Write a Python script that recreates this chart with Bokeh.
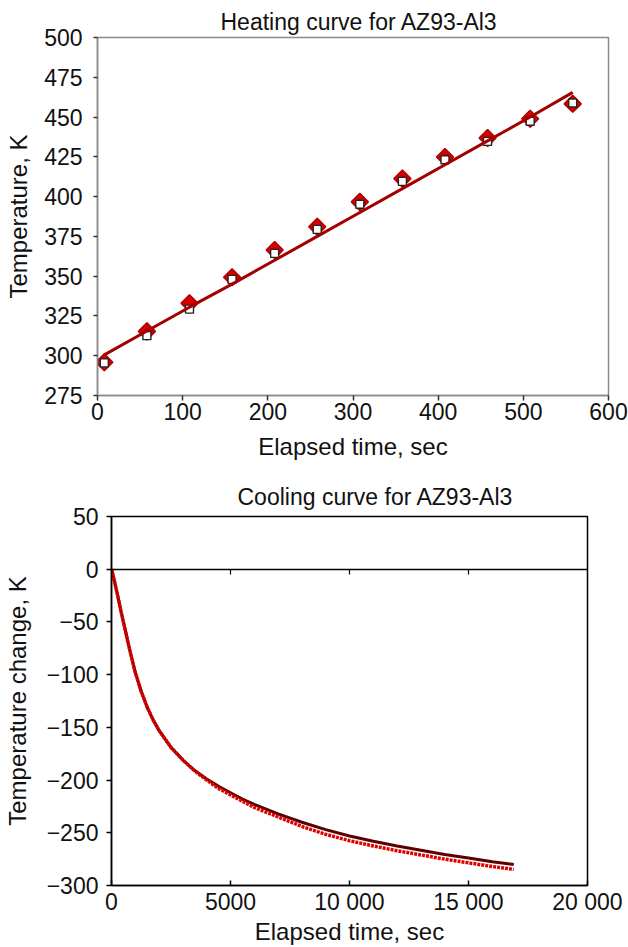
from bokeh.plotting import figure
from bokeh.layouts import column, row
from bokeh.models import FixedTicker, LinearAxis, Range1d
from bokeh.embed import file_html
from bokeh.resources import INLINE

# ---------------- Heating curve data ----------------
heat_time = [8, 58, 108, 158, 208, 258, 308, 358, 408, 458, 508, 558]
heat_diamond = [295.9, 315.3, 333.0, 349.3, 366.4, 381.0, 396.7, 411.3, 424.9, 436.8, 448.9, 458.3]
heat_square = [295.5, 312.6, 329.3, 348.0, 364.3, 379.4, 395.2, 409.6, 423.2, 434.7, 447.4, 458.8]
heat_fit = [300.5, 315.5, 330.5, 345.0, 360.0, 375.0, 390.0, 405.0, 420.0, 435.0, 450.0, 465.5]
heat_xticks = [0, 100, 200, 300, 400, 500, 600]
heat_yticks = [275, 300, 325, 350, 375, 400, 425, 450, 475, 500]

# ---------------- Cooling curve data ----------------
cool_time = [0, 100, 250, 400, 550, 750, 1000, 1250, 1500, 1750, 2000, 2500, 3000, 3500,
             4000, 4500, 5000, 5500, 6000, 7000, 8000, 9000, 10000, 11000, 12000, 13000,
             14000, 15000, 16000, 16900]
cool_dark = [0, -9, -24, -40, -55, -75, -98, -116, -131, -143, -153, -169, -181, -191,
             -199, -206, -212, -218, -223, -232, -240, -247, -253, -258, -262.5, -266.5,
             -270.5, -274, -277.5, -280]
cool_red = [0, -9, -24, -40, -55, -75, -98, -116, -131, -143, -153, -169, -181, -191.5,
            -200, -208, -214, -220, -226, -235, -244, -251.5, -257.5, -262.5, -267, -271,
            -275, -278.5, -282, -284.7]
cool_xticks = [0, 5000, 10000, 15000, 20000]
cool_xlabels = {0: "0", 5000: "5000", 10000: "10\u00a0000", 15000: "15\u00a0000", 20000: "20\u00a0000"}
cool_yticks = [-300, -250, -200, -150, -100, -50, 0, 50]
cool_ylabels = {-300: "\u2212300", -250: "\u2212250", -200: "\u2212200", -150: "\u2212150",
                -100: "\u2212100", -50: "\u221250", 0: "0", 50: "50"}
zero_line_ticks = [5000, 10000, 15000]

FONT = "Liberation Sans"


def style_axes(p, axis_color, tick_color):
    for ax in (p.xaxis[0], p.yaxis[0]):
        ax.major_label_text_font = FONT
        ax.major_label_text_font_size = "23px"
        ax.major_label_text_color = "#111111"
        ax.axis_label_text_font = FONT
        ax.axis_label_text_font_size = "24px"
        ax.axis_label_text_font_style = "normal"
        ax.axis_label_text_color = "#111111"
        ax.axis_line_color = axis_color
        ax.axis_line_width = 1.5
        ax.major_tick_line_color = tick_color
        ax.major_tick_line_width = 1.5
        ax.minor_tick_line_color = None
    p.xgrid.visible = False
    p.ygrid.visible = False
    p.title.text_font = FONT
    p.title.text_font_size = "23px"
    p.title.text_font_style = "normal"
    p.title.text_color = "#111111"
    p.title.align = "left"


# ---------------- Top figure ----------------
p1 = figure(width=628, height=470, output_backend="svg", toolbar_location=None,
            x_range=Range1d(0, 600), y_range=Range1d(275, 500),
            min_border_left=97, min_border_right=20, min_border_top=37, min_border_bottom=75,
            title="Heating curve for AZ93-Al3")
style_axes(p1, "#8a8a8a", "#333333")
p1.title.offset = 123
p1.title.standoff = 5
p1.outline_line_color = "#8a8a8a"
p1.outline_line_width = 1.5
p1.xaxis.ticker = FixedTicker(ticks=heat_xticks)
p1.yaxis.ticker = FixedTicker(ticks=heat_yticks)
p1.xaxis.axis_label = "Elapsed time, sec"
p1.yaxis.axis_label = "Temperature, K"
p1.xaxis.major_tick_in = 0
p1.xaxis.major_tick_out = 5
p1.yaxis.major_tick_in = 0
p1.yaxis.major_tick_out = 4
p1.xaxis.major_label_standoff = 2
p1.xaxis.axis_label_standoff = 10
p1.yaxis.major_label_standoff = 11
p1.yaxis.axis_label_standoff = 9

p1.scatter(heat_time, heat_diamond, marker="square", angle=0.785398, size=12,
           fill_color="#d40000", line_color="#b00000", line_width=1.5)
p1.scatter(heat_time, heat_square, marker="square", size=8,
           fill_color="white", line_color="#222222", line_width=1.4)
p1.line(heat_time, heat_fit, line_color="#a30000", line_width=3)

# ---------------- Bottom figure ----------------
p2 = figure(width=628, height=477, output_backend="svg", toolbar_location=None,
            x_range=Range1d(0, 20000), y_range=Range1d(-300, 50),
            min_border_left=111, min_border_right=41, min_border_top=46, min_border_bottom=60,
            title="Cooling curve for AZ93-Al3")
style_axes(p2, "black", "black")
p2.title.offset = 126
p2.title.standoff = 13
p2.outline_line_color = "black"
p2.outline_line_width = 1.5
p2.xaxis.ticker = FixedTicker(ticks=cool_xticks)
p2.xaxis.major_label_overrides = cool_xlabels
p2.yaxis.ticker = FixedTicker(ticks=cool_yticks)
p2.yaxis.major_label_overrides = cool_ylabels
p2.xaxis.axis_label = "Elapsed time, sec"
p2.yaxis.axis_label = "Temperature change, K"
p2.xaxis.major_tick_in = 5
p2.xaxis.major_tick_out = 0
p2.yaxis.major_tick_in = 0
p2.yaxis.major_tick_out = 5
p2.xaxis.major_label_standoff = 3
p2.xaxis.axis_label_standoff = 0
p2.yaxis.major_label_standoff = 8
p2.yaxis.axis_label_standoff = 13

zero_axis = LinearAxis(fixed_location=0, ticker=FixedTicker(ticks=zero_line_ticks),
                       major_label_text_font_size="0px", major_label_text_color=None,
                       major_label_overrides={t: "" for t in zero_line_ticks},
                       major_label_standoff=0,
                       major_tick_in=5, major_tick_out=0, minor_tick_line_color=None,
                       axis_line_color="black", axis_line_width=1.5,
                       major_tick_line_color="black", major_tick_line_width=1.2)
p2.add_layout(zero_axis, "above")

p2.line(cool_time, cool_dark, line_color="#5c0000", line_width=3)
p2.line(cool_time, cool_red, line_color="#e00000", line_width=3.5, line_dash="3 1")

layout = column(row(p1), row(p2), spacing=0)
open("out.html", "w").write(file_html(layout, INLINE))
